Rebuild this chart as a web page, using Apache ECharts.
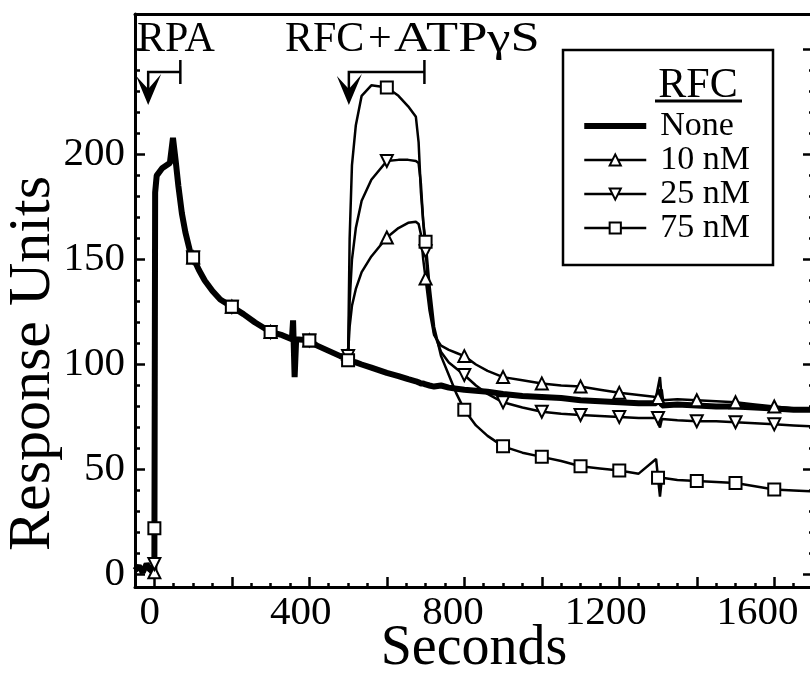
<!DOCTYPE html>
<html><head><meta charset="utf-8">
<script src="https://cdn.jsdelivr.net/npm/echarts/dist/echarts.min.js"></script>
<style>html,body{margin:0;padding:0;background:#fff}#c{width:810px;height:680px}</style>
</head><body><div id="c"></div>
<script>
// ---- data ----
const times = [-50,-40,-30,-20,-10,-2,0,2,6,20,40,48,55,62,71,80,92,100,115,130,150,170,200,230,260,300,330,355,358,362,366,400,420,450,480,495,500,504,510,520,535,560,600,630,655,675,682,688,694,700,710,722,740,760,780,800,830,860,900,950,1000,1050,1100,1150,1200,1250,1295,1300,1305,1310,1350,1400,1450,1500,1550,1600,1650,1700];
const noneRU = [2,4,1,5,2,3,2, 182,190,193.5,196,208,197,185,172,163,154, 151,145,140,135,131,127.5,124,120,115.5,114, 112,121,94,112,111.5,109,106.5,104,103,102.5, 102,101.5,101,100,98.5,96,94.5,93,92,91.5, 91,91,90.5,90,89.5,90,89,88.5,88,87.5, 87,86,85,84.5,84,83,82.5,82,81.5,81.5, 81,88,80.5,81,80.5,80,80,79.5,79,78.5, 78.5];
const rfc10 = [1,3,2,3,1,1,1, 182,190,193.5,196,197,197,185,172,163,154, 151,145,140,135,131,127.5,124,120,115.5,114, 112,112,112,112,111.5,109,106.5,104,103,105, 118,128,136,144,151.5,160.5,165,167.5,168,167, 162,150,141,126,114,109,107,105.5,104,100, 97,94,92.5,91,90,89.5,88,86.5,85.5,84.5, 84,94,83,83.5,83,82.5,82,81,80,79, 78.5];
const rfc25 = [2,3,1,4,2,3,5, 182,190,193.5,196,197,197,185,172,163,154, 151,145,140,135,131,127.5,124,120,115.5,114, 112,112,112,112,111.5,109,106.5,104,103,104, 130,150,165,178,188,197,197.5,197.5,197,196, 186,168,154,131,115,106,101,98,95,90, 86,82,79.5,77.5,76.5,76,75.5,75,74.5,74.5, 74.5,70,74,73.5,73,73,72.5,72,71.5,71, 70.5];
const rfc75 = [2,4,2,4,2,3,22, 182,190,193.5,196,197,197,185,172,163,154, 151,145,140,135,131,127.5,124,120,115.5,114, 112,112,112,112,111.5,109,106.5,104,103,102, 160,195,214,228,233,232,228,223,218,206, 182,168,158.5,138,118,104,95,86,78.5,71, 66,61,58,56,54,51.5,50.5,49.5,48,55, 46,37,46,45,44.5,44,43.5,42,40.5,40, 39.5];
const markerTimes = [0,100,200,300,400,500,600,700,800,900,1000,1100,1200,1300,1400,1500,1600];
const seriesNames = ['None','10 nM','25 nM','75 nM'];
const xMajorTicks = [0,200,400,600,800,1000,1200,1400,1600];
const xMinorTicks = [50,100,150,250,300,350,450,500,550,650,700,750,850,900,950,1050,1100,1150,1250,1300,1350,1450,1500,1550,1650];
const xTickLabels = [0,400,800,1200,1600];
const xLabelPositions = [-12,378,771,1165,1557]; // labels sit slightly left of their ticks in the reference
const yMajorTicks = [0,50,100,150,200,250];
const yMinorTicks = [10,20,30,40,60,70,80,90,110,120,130,140,160,170,180,190,210,220,230,240];
const yTickLabels = [0,50,100,150,200];
const rpaInjection = [-16, 67];
const rfcInjection = [502, 697];

// ---- chart ----
const FONT = 'Liberation Serif';
const chart = echarts.init(document.getElementById('c'), null, {renderer:'canvas'});
const pairs = vals => times.map((t, i) => [t, vals[i]]);
const markSize = v => markerTimes.indexOf(v[0]) >= 0 ? 12 : 0;
const lineAx = {show:true, onZero:false, lineStyle:{color:'#000', width:3}};
const noLine = {show:false, onZero:false};
const tickStyle = {color:'#000', width:2.5};
const X = {type:'value', min:-50, max:1700, splitLine:{show:false}};
const Y = {type:'value', min:-6, max:267, splitLine:{show:false}};
const downTri = 'path://M0,0L10,0L5,9Z';

const thin = (name, vals, symbol) => ({
  name, type:'line', data: pairs(vals), symbol, symbolSize: markSize, showAllSymbol:true,
  lineStyle:{color:'#000', width:2.5}, itemStyle:{color:'#fff', borderColor:'#000', borderWidth:2},
  emphasis:{disabled:true}
});

chart.setOption({
  animation:false,
  grid:{left:135, right:-3, top:14, bottom:93, outerBoundsMode:'none', containLabel:false},
  xAxis:[
    Object.assign({}, X, {position:'bottom', axisLine:lineAx,
      axisTick:{show:true, inside:true, length:10, lineStyle:tickStyle, customValues:xMajorTicks},
      axisLabel:{customValues:xLabelPositions,
        formatter:v=>String(xTickLabels[xLabelPositions.indexOf(v)]),
        fontFamily:FONT, fontSize:41, color:'#000', margin:6},
      name:'Seconds', nameLocation:'middle', nameGap:34, nameMoveOverlap:false,
      nameTextStyle:{fontFamily:FONT, fontSize:56, color:'#000'}}),
    Object.assign({}, X, {position:'bottom', axisLine:noLine,
      axisTick:{show:true, inside:true, length:4, lineStyle:tickStyle, customValues:xMinorTicks},
      axisLabel:{show:false}}),
    Object.assign({}, X, {position:'top', axisLine:lineAx, axisTick:{show:false}, axisLabel:{show:false}})
  ],
  yAxis:[
    Object.assign({}, Y, {position:'left', axisLine:lineAx,
      axisTick:{show:true, inside:true, length:10, lineStyle:tickStyle, customValues:yMajorTicks},
      axisLabel:{customValues:yTickLabels, formatter:v=>String(v), fontFamily:FONT, fontSize:41, color:'#000', margin:10},
      name:'Response Units', nameLocation:'middle', nameGap:72, nameMoveOverlap:false,
      nameTextStyle:{fontFamily:FONT, fontSize:60, color:'#000', padding:[0,126,0,0]}}),
    Object.assign({}, Y, {position:'left', axisLine:noLine,
      axisTick:{show:true, inside:true, length:5, lineStyle:tickStyle, customValues:yMinorTicks},
      axisLabel:{show:false}}),
    Object.assign({}, Y, {position:'right', axisLine:lineAx,
      axisTick:{show:true, inside:true, length:10, lineStyle:tickStyle, customValues:yMajorTicks},
      axisLabel:{show:false}}),
    Object.assign({}, Y, {position:'right', axisLine:noLine,
      axisTick:{show:true, inside:true, length:4, lineStyle:tickStyle, customValues:yMinorTicks},
      axisLabel:{show:false}})
  ],
  legend:{
    orient:'vertical', left:583, top:109, padding:0, itemGap:0, itemWidth:62, itemHeight:14,
    selectedMode:false,
    data:[{name:seriesNames[0], icon:'path://M0,0H62V6H0Z'}, seriesNames[1], seriesNames[2], seriesNames[3]],
    textStyle:{fontFamily:FONT, fontSize:34, lineHeight:34, color:'#000', padding:[0,0,0,9]},
    lineStyle:{width:2.5, color:'#000'},
    itemStyle:{borderWidth:2}
  },
  series:[
    thin(seriesNames[1], rfc10, 'triangle'),
    thin(seriesNames[2], rfc25, downTri),
    {name:seriesNames[0], type:'line', data:pairs(noneRU), symbol:'none', showSymbol:false,
     lineStyle:{color:'#000', width:6}, itemStyle:{color:'#000'}, emphasis:{disabled:true}},
    thin(seriesNames[3], rfc75, 'rect')
  ]
});

function bracket(range) {
  const x0 = chart.convertToPixel({xAxisIndex:0}, range[0]);
  const x1 = chart.convertToPixel({xAxisIndex:0}, range[1]);
  return [
    {type:'polyline', shape:{points:[[x1,72],[x0,72],[x0,92]]}, style:{stroke:'#000', lineWidth:2.5, fill:null}},
    {type:'line', shape:{x1:x1, y1:60, x2:x1, y2:84}, style:{stroke:'#000', lineWidth:2.5}},
    {type:'polygon', shape:{points:[[x0-12,76],[x0,105],[x0+13,74],[x0,89]]}, style:{fill:'#000'}}
  ];
}

const F42 = '42px "Liberation Serif"';
chart.setOption({
  graphic:[
    {type:'rect', shape:{x:563, y:50, width:210, height:215}, style:{fill:null, stroke:'#000', lineWidth:2.5}},
    {type:'text', x:698, y:86, style:{text:'RFC', font:F42, fill:'#000', align:'center', verticalAlign:'middle'}},
    {type:'line', shape:{x1:655, y1:101, x2:742, y2:101}, style:{stroke:'#000', lineWidth:3}},
    {type:'text', x:137, y:40, style:{text:'RPA', font:F42, fill:'#000', align:'left', verticalAlign:'middle'}},
    {type:'text', x:285, y:40, style:{text:'RFC', font:F42, fill:'#000', align:'left', verticalAlign:'middle'}},
    {type:'text', x:368, y:40, style:{text:'+', font:F42, fill:'#000', align:'left', verticalAlign:'middle'}},
    {type:'text', x:394, y:40, scaleX:1.25, style:{text:'ATPγS', font:F42, fill:'#000', align:'left', verticalAlign:'middle'}}
  ].concat(bracket(rpaInjection), bracket(rfcInjection))
});
</script></body></html>
